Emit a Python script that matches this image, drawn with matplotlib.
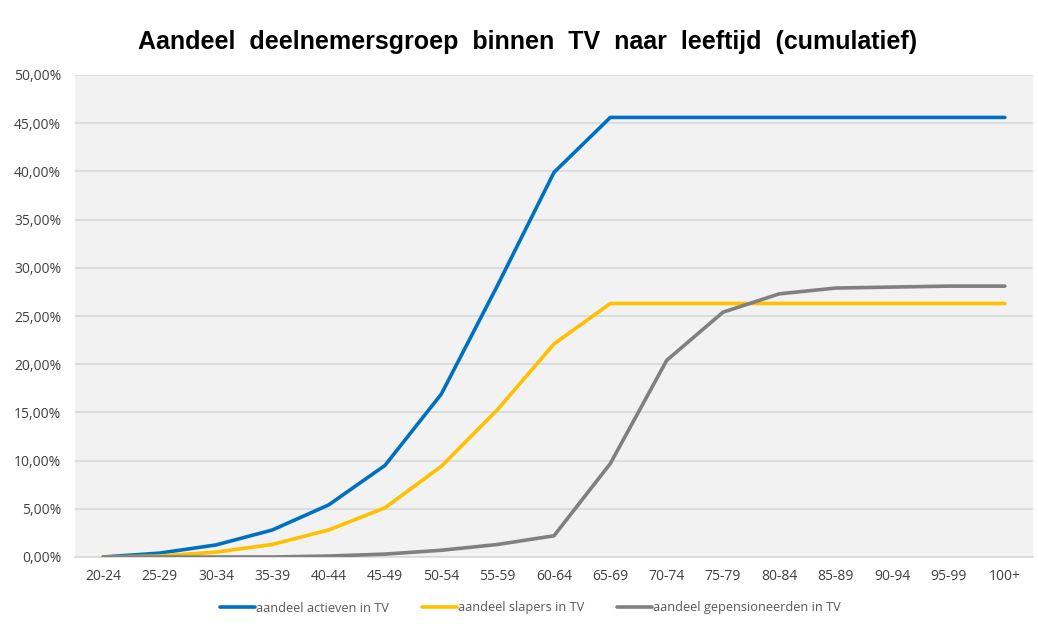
import matplotlib
matplotlib.use('Agg')
import matplotlib.pyplot as plt
from matplotlib.ticker import FuncFormatter

# data (percent, cumulative)
categories = ['20-24', '25-29', '30-34', '35-39', '40-44', '45-49', '50-54', '55-59',
              '60-64', '65-69', '70-74', '75-79', '80-84', '85-89', '90-94', '95-99', '100+']
actieven = [0.0, 0.4, 1.25, 2.8, 5.4, 9.5, 16.9, 28.2, 39.9, 45.6,
            45.6, 45.6, 45.6, 45.6, 45.6, 45.6, 45.6]
slapers = [0.0, 0.1, 0.5, 1.3, 2.8, 5.1, 9.4, 15.3, 22.1, 26.3,
           26.3, 26.3, 26.3, 26.3, 26.3, 26.3, 26.3]
gepensioneerden = [0.0, 0.0, 0.0, 0.0, 0.1, 0.3, 0.7, 1.3, 2.2, 9.7,
                   20.4, 25.4, 27.3, 27.9, 28.0, 28.1, 28.1]

tick_font = 'Open Sans'

fig = plt.figure(figsize=(10.38, 6.31), dpi=100)
ax = fig.add_axes([75/1038, 1 - 557/631, (1033 - 75)/1038, (557 - 75)/631])
ax.set_facecolor('#f2f2f2')

x = list(range(len(categories)))
ax.plot(x, actieven, color='#0070c0', lw=2.6, solid_capstyle='round', label='aandeel actieven in TV', zorder=3)
ax.plot(x, slapers, color='#ffc000', lw=2.6, solid_capstyle='round', label='aandeel slapers in TV', zorder=3)
ax.plot(x, gepensioneerden, color='#808080', lw=2.6, solid_capstyle='round', label='aandeel gepensioneerden in TV', zorder=3)

ax.set_xlim(-0.5, len(categories) - 0.5)
ax.set_ylim(0, 50)
ax.set_yticks(range(0, 51, 5))
ax.yaxis.set_major_formatter(FuncFormatter(lambda v, p: f'{v:.2f}%'.replace('.', ',')))
ax.set_xticks(x)
ax.set_xticklabels(categories)
ax.grid(axis='y', color='#d9d9d9', lw=1.2, zorder=0)
ax.set_axisbelow(True)
for s in ['top', 'right', 'left']:
    ax.spines[s].set_visible(False)
ax.spines['bottom'].set_color('#d9d9d9')
ax.spines['bottom'].set_linewidth(1.2)
ax.tick_params(length=0, labelsize=10, colors='#404040', pad=9)
ax.tick_params(axis='y', pad=10)
for lab in ax.get_xticklabels() + ax.get_yticklabels():
    lab.set_fontfamily(tick_font)

fig.text(0.508, 1 - 42/631, 'Aandeel  deelnemersgroep  binnen  TV  naar  leeftijd  (cumulatief)',
         ha='center', va='center', fontsize=18, fontweight='bold', family='Liberation Sans')

leg = fig.legend(loc='center', bbox_to_anchor=(0.511, 1 - 608/631), ncol=3, frameon=False,
                 prop={'family': tick_font, 'size': 9.2}, handlelength=2.75, handletextpad=0.05,
                 columnspacing=2.6)
for t in leg.get_texts():
    t.set_color('#595959')

fig.savefig('out.png', dpi=100, facecolor='white')
